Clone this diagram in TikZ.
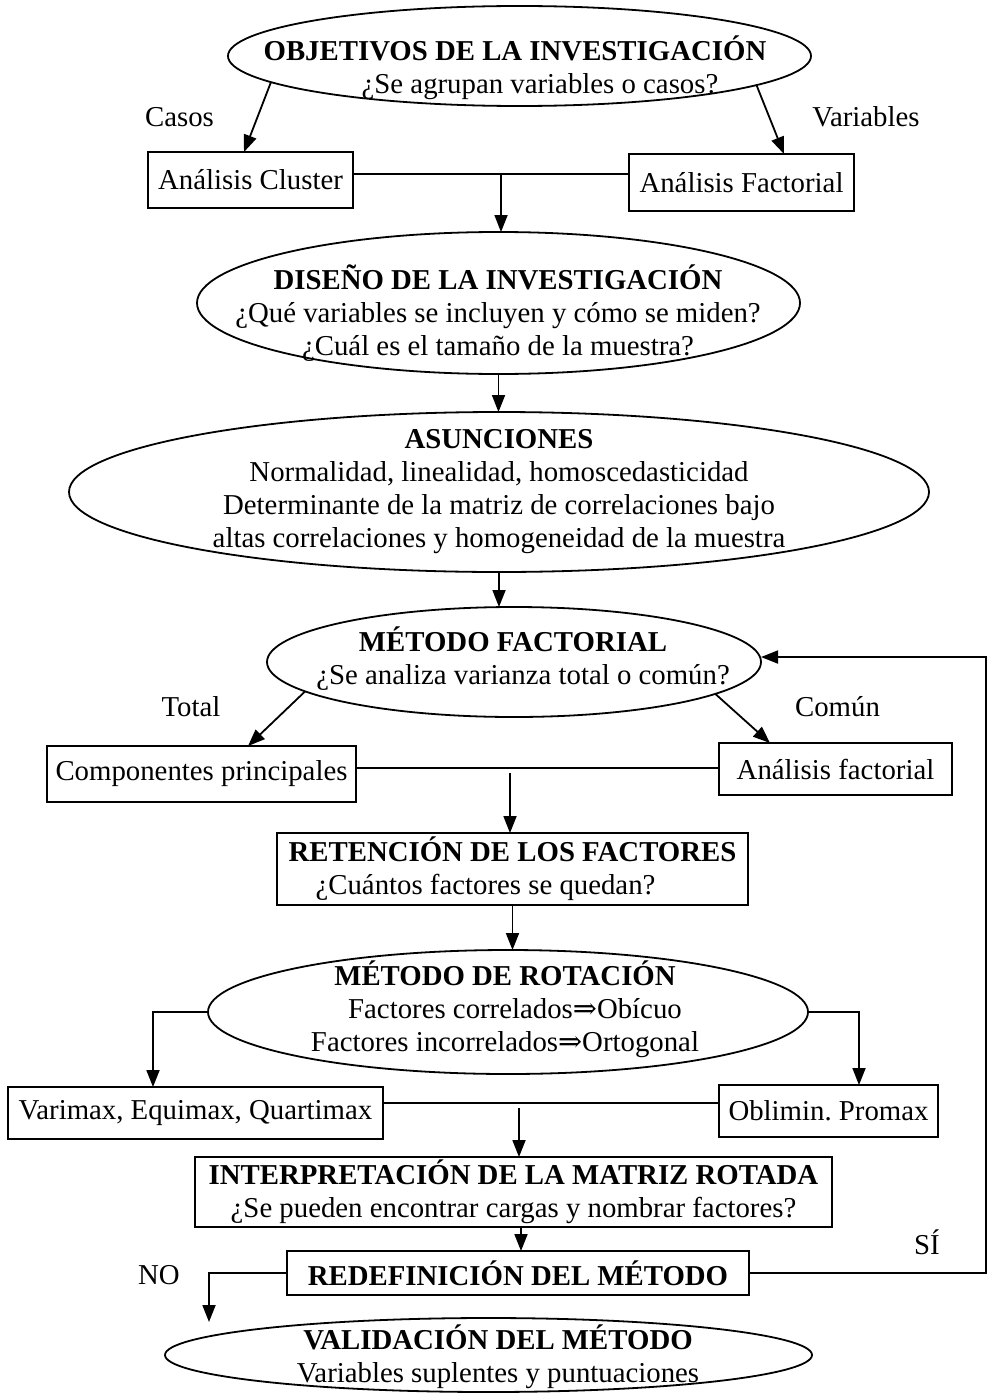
\documentclass[tikz,border=0pt]{standalone}
\usepackage{fontspec}
\setmainfont{Liberation Serif}
\newfontfamily\arrowfont{DejaVu Serif}
\newcommand{\implarrow}{{\arrowfont ⇒}}
\usetikzlibrary{shapes.geometric,arrows.meta}
\begin{document}
\frenchspacing
\begin{tikzpicture}[x=1pt,y=-1pt,
  every node/.style={font=\fontsize{28.8}{33}\selectfont, inner sep=0pt, outer sep=0pt},
  ell/.style={draw, ellipse, line width=1.8pt},
  box/.style={draw, rectangle, line width=1.8pt},
  txt/.style={align=center},
  conn/.style={line width=1.8pt},
  arr/.style={conn, -{Triangle[length=17pt,width=13pt]}}]
\useasboundingbox (0,0) rectangle (987,1394);

% ---------- ellipses ----------
\node[ell, minimum width=583, minimum height=100] (obj) at (519.5,56) {};
\node[txt] (objt) at (515,67.5) {\textbf{OBJETIVOS DE LA INVESTIGACIÓN}\\\hspace*{50pt}¿Se agrupan variables o casos?};

\node[ell, minimum width=603, minimum height=142] (dis) at (498.5,303) {};
\node[txt] (dist) at (498,313) {\textbf{DISEÑO DE LA INVESTIGACIÓN}\\¿Qué variables se incluyen y cómo se miden?\\¿Cuál es el tamaño de la muestra?};

\node[ell, minimum width=860, minimum height=160] (asu) at (499,492) {};
\node[txt] (asut) at (499,492) {\textbf{ASUNCIONES}\\Normalidad, linealidad, homoscedasticidad\\Determinante de la matriz de correlaciones bajo\\altas correlaciones y homogeneidad de la muestra};

\node[ell, minimum width=494, minimum height=110] (mf) at (514,662) {};
\node[txt] (mft) at (513,658.5) {\textbf{MÉTODO FACTORIAL}\\\hspace*{20pt}¿Se analiza varianza total o común?};

\node[ell, minimum width=600, minimum height=124] (rot) at (508,1012) {};
\node[txt] (rott) at (505,1009) {\textbf{MÉTODO DE ROTACIÓN}\\\hspace*{20pt}Factores correlados\implarrow Obícuo\\Factores incorrelados\implarrow Ortogonal};

\node[ell, minimum width=647, minimum height=74] (val) at (488.5,1355) {};
\node[txt] (valt) at (498,1356.5) {\textbf{VALIDACIÓN DEL MÉTODO}\\Variables suplentes y puntuaciones};

% ---------- boxes ----------
\node[box, minimum width=205, minimum height=56] (clu) at (250.5,180) {Análisis Cluster};
\node[box, minimum width=225, minimum height=57] (fac) at (741.5,182.5) {Análisis Factorial};
\node[box, minimum width=309, minimum height=56] (comp) at (201.5,774) {Componentes principales};
\node[box, minimum width=233, minimum height=52] (af) at (835.5,769) {Análisis factorial};
\node[box, minimum width=471, minimum height=72, txt] (ret) at (512.5,869) {\textbf{RETENCIÓN DE LOS FACTORES}\\\hspace*{-54pt}¿Cuántos factores se quedan?};
\node[box, minimum width=375, minimum height=52] (var) at (195.5,1113) {Varimax, Equimax, Quartimax};
\node[box, minimum width=219, minimum height=52] (obl) at (828.5,1111) {Oblimin. Promax};
\node[box, minimum width=637, minimum height=70, txt] (int) at (513.5,1192) {\textbf{INTERPRETACIÓN DE LA MATRIZ ROTADA}\\¿Se pueden encontrar cargas y nombrar factores?};
\node[box, minimum width=462, minimum height=44] (red) at (518,1273) {\textbf{REDEFINICIÓN DEL MÉTODO}};

% ---------- labels ----------
\node (lcasos) at (179.5,117) {Casos};
\node (lvar) at (866,117) {Variables};
\node (ltotal) at (191,707) {Total};
\node (lcomun) at (837.5,707) {Común};
\node (lno) at (159,1275) {NO};
\node (lsi) at (927,1242) {SÍ};

% ---------- junctions ----------
\coordinate (j1) at (501,174);
\coordinate (j2) at (510,768);
\coordinate (j3) at (519,1103);
\coordinate (j4) at (521,1227);
\coordinate (noend) at (209,1322);
\coordinate (fbR) at (986,657);

% ---------- connectors ----------
\draw[arr] (obj.186) -- ([xshift=-6.5pt]clu.north);
\draw[arr] (obj.353) -- ([xshift=42.5pt]fac.north);
\draw[conn] (clu.east |- j1) -- (fac.west |- j1);
\draw[arr] (j1) -- (j1 |- dis.north);
\draw[arr] (dis.south) -- (dis.south |- asu.north);
\draw[arr] (asu.south) -- (asu.south |- mf.north);
\draw[arr] (mf.188.7) -- ([xshift=46.5pt]comp.north);
\draw[arr] (mf.351.2) -- ([xshift=-65.5pt]af.north);
\draw[conn] (comp.east |- j2) -- (af.west |- j2);
\draw[arr] ([yshift=-5pt]j2) -- (j2 |- ret.north);
\draw[arr] (ret.south) -- (ret.south |- rot.north);
\draw[arr] (rot.west) -| ([xshift=-42.5pt]var.north);
\draw[arr] (rot.east) -| ([xshift=30.5pt]obl.north);
\draw[conn] (var.east |- j3) -- (obl.west |- j3);
\draw[arr] ([yshift=-5pt]j3) -- (j3 |- int.north);
\draw[arr] (j4) -- (j4 |- red.north);
\draw[arr] (red.west) -| (noend);
\draw[arr] (red.east) -| (fbR) -- (mf.east |- fbR);
\end{tikzpicture}
\end{document}
